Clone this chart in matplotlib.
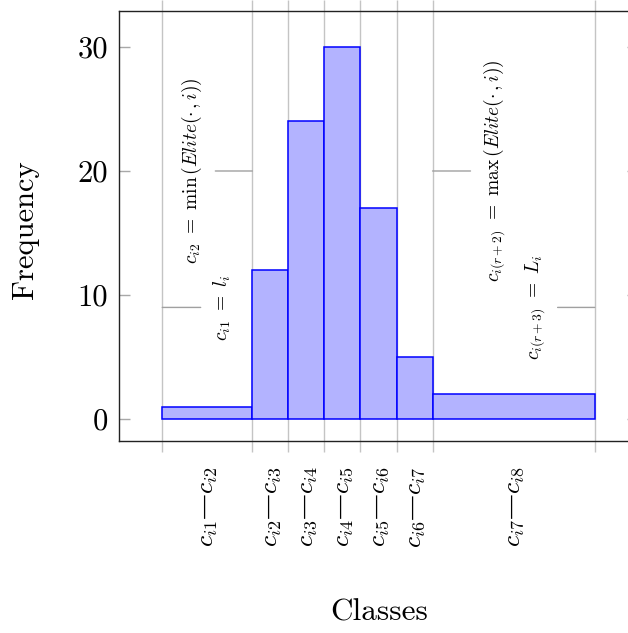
import matplotlib
matplotlib.use("Agg")
import matplotlib.pyplot as plt

plt.rcParams["font.family"] = ["cmr10", "DejaVu Serif"]
plt.rcParams["mathtext.fontset"] = "cm"
plt.rcParams["axes.unicode_minus"] = False

# class boundaries and frequencies
edges = [0, 2.5, 3.5, 4.5, 5.5, 6.5, 7.5, 12]
freqs = [1, 12, 24, 30, 17, 5, 2]
class_labels = [
    r"$c_{i1}$—$c_{i2}$", r"$c_{i2}$—$c_{i3}$", r"$c_{i3}$—$c_{i4}$",
    r"$c_{i4}$—$c_{i5}$", r"$c_{i5}$—$c_{i6}$", r"$c_{i6}$—$c_{i7}$",
    r"$c_{i7}$—$c_{i8}$",
]
y_ticks = [0, 10, 20, 30]

# bound annotations: (text, boundary index, height, text x-position)
bound_notes = [
    (r"$c_{i1}\ =\ l_i$", 0, 9, 1.67),
    (r"$c_{i2}\ =\ \min\,(Elite(\cdot\,,i))$", 1, 20, 0.83),
    (r"$c_{i(r+2)}\ =\ \max\,(Elite(\cdot\,,i))$", 6, 20, 9.22),
    (r"$c_{i(r+3)}\ =\ L_i$", 7, 9, 10.33),
]

W, H = 628, 633
fig = plt.figure(figsize=(W / 100, H / 100), dpi=100)
ax = fig.add_axes([119 / W, 192 / H, (638 - 119) / W, (622 - 192) / H])

widths = [b - a for a, b in zip(edges[:-1], edges[1:])]
ax.bar(edges[:-1], freqs, width=widths, align="edge",
       color="#b3b3ff", edgecolor="#0000ff", linewidth=1.1, zorder=2)

ax.set_xlim(-1.2, 13.2)
ax.set_ylim(-1.77, 32.9)

ax.set_xticks(edges)
ax.set_xticklabels([])
ax.grid(axis="x", color="#c4c4c4", linewidth=1.0, zorder=0)
ax.set_axisbelow(True)
ax.tick_params(axis="x", which="major", direction="out", length=8,
               color="#c4c4c4", top=True, bottom=True, width=1.0)

centers = [(a + b) / 2 for a, b in zip(edges[:-1], edges[1:])]
ax.set_xticks(centers, minor=True)
ax.set_xticklabels(class_labels, minor=True, rotation=90, fontsize=18.5,
                   family="DejaVu Serif")
ax.tick_params(axis="x", which="minor", length=0, pad=18)

ax.set_yticks(y_ticks)
ax.tick_params(axis="y", direction="in", length=8, color="#a8a8a8",
               left=True, right=True, labelsize=22, pad=8, width=1.0)

for s in ax.spines.values():
    s.set_linewidth(1.0)
    s.set_color("#222222")

for text, k, h, xt in bound_notes:
    ax.annotate(text, xy=(edges[k], h), xytext=(xt, h),
                rotation=90, ha="center", va="center", fontsize=14,
                arrowprops=dict(arrowstyle="-", color="#a0a0a0", lw=1.0,
                                shrinkA=6, shrinkB=0),
                zorder=3)

fig.text(25 / W, 1 - 230 / H, "Frequency", rotation=90, ha="center",
         va="center", fontsize=22)
fig.text(379 / W, 1 - 613 / H, "Classes", ha="center", va="center",
         fontsize=22.5)

fig.savefig("out.png", dpi=100)
